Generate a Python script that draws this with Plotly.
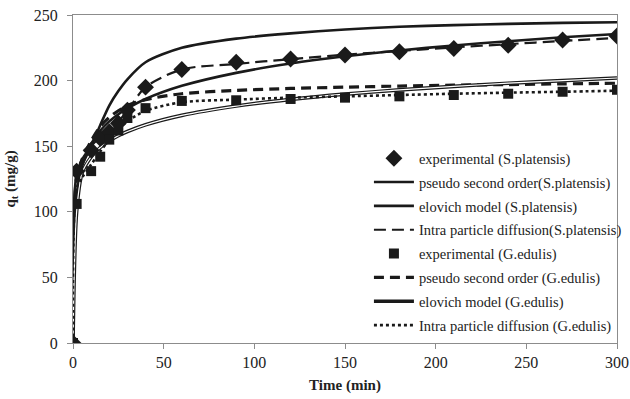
import plotly.graph_objects as go

# ---- data ----
t_exp = [0, 2, 10, 15, 20, 25, 30, 40, 60, 90, 120, 150, 180, 210, 240, 270, 300]
exp_sp = [0, 131, 147, 156, 161, 167.5, 177.5, 195, 208.5, 214, 216.5, 219.5, 222, 224.5, 227, 231, 234]
exp_ge = [0, 106, 131, 142, 155, 162, 171.5, 179, 184.5, 185, 186, 187, 188, 189, 190, 191.5, 193]

t_mod = [0, 2, 5, 10, 15, 20, 25, 30, 40, 60, 90, 120, 150, 180, 210, 240, 270, 300]
pso_sp = [0, 128, 136, 150, 166, 181, 192, 201, 214, 225, 232, 236, 239, 241, 242.3, 243.2, 244, 244.5]
elo_sp = [0, 112, 134.8, 151.8, 161.8, 168.9, 174.4, 178.9, 186, 196, 205.9, 213, 218.5, 223, 226.8, 230, 233, 235.5]
ipd_sp = [0, 130, 140, 150, 157, 163, 169, 177, 195, 208.5, 212.7, 216.4, 219.7, 222.6, 225.3, 227.8, 230.2, 232.5]
pso_ge = [0, 125, 140, 154, 165, 172, 177, 181, 185.5, 190, 192.5, 194, 195, 195.8, 196.5, 197, 197.5, 198]
elo_ge = [0, 100, 129.5, 141.8, 149, 154, 158, 161.2, 166.3, 173.5, 180.6, 185.7, 189.7, 192.9, 195.6, 198, 200, 202]
ipd_ge = [0, 118, 126, 136, 146, 155, 163, 169, 177, 183.5, 185.5, 187, 188, 189, 190, 190.8, 191.5, 192.3]

names = [
    "experimental (S.platensis)",
    "pseudo second order(S.platensis)",
    "elovich model (S.platensis)",
    "Intra particle diffusion(S.platensis)",
    "experimental (G.edulis)",
    "pseudo second order (G.edulis)",
    "elovich model (G.edulis)",
    "Intra particle diffusion (G.edulis)",
]

BLACK = "#1a1a1a"
SPL = dict(shape="spline", smoothing=0.8)

fig = go.Figure()

fig.add_trace(go.Scatter(x=t_mod, y=pso_sp, mode="lines", name=names[1],
                         line=dict(color=BLACK, width=2.6, **SPL), legendgroup="g2"))
fig.add_trace(go.Scatter(x=t_mod, y=elo_sp, mode="lines", name=names[2],
                         line=dict(color=BLACK, width=2.6, **SPL), legendgroup="g3"))
fig.add_trace(go.Scatter(x=t_mod, y=ipd_sp, mode="lines", name=names[3],
                         line=dict(color=BLACK, width=2.2, dash="12px,6px", **SPL), legendgroup="g4"))
fig.add_trace(go.Scatter(x=t_mod, y=pso_ge, mode="lines", name=names[5],
                         line=dict(color=BLACK, width=3.2, dash="10px,6px", **SPL), legendgroup="g6"))
fig.add_trace(go.Scatter(x=t_mod, y=elo_ge, mode="lines", name=names[6],
                         line=dict(color=BLACK, width=3.6, **SPL), legendgroup="g7"))
fig.add_trace(go.Scatter(x=t_mod, y=elo_ge, mode="lines", name=names[6], showlegend=False,
                         line=dict(color="white", width=1.2, **SPL), legendgroup="g7", hoverinfo="skip"))
fig.add_trace(go.Scatter(x=t_mod, y=ipd_ge, mode="lines", name=names[7],
                         line=dict(color=BLACK, width=2.6, dash="dot", **SPL), legendgroup="g8"))
fig.add_trace(go.Scatter(x=t_exp, y=exp_sp, mode="markers", name=names[0],
                         marker=dict(symbol="diamond", size=13, color=BLACK), legendgroup="g1"))
fig.add_trace(go.Scatter(x=t_exp, y=exp_ge, mode="markers", name=names[4],
                         marker=dict(symbol="square", size=10, color=BLACK), legendgroup="g5"))

order = {names[0]: 1, names[1]: 2, names[2]: 3, names[3]: 4, names[4]: 5, names[5]: 6, names[6]: 7, names[7]: 8}
for tr in fig.data:
    tr.legendrank = order[tr.name]

FONT = "Liberation Serif"
AXC = "#8c8c8c"

fig.update_layout(
    width=630, height=399,
    margin=dict(l=73, r=13, t=15, b=56, autoexpand=False),
    paper_bgcolor="white", plot_bgcolor="white",
    font=dict(family=FONT, size=16, color="#222"),
    showlegend=True,
    legend=dict(x=0.544, y=0.612, xanchor="left", yanchor="top",
                font=dict(family=FONT, size=14.5, color="#222"),
                bgcolor="rgba(0,0,0,0)", traceorder="grouped",
                tracegroupgap=2, itemwidth=40),
    xaxis=dict(range=[0, 300], tickvals=[0, 50, 100, 150, 200, 250, 300], automargin=False,
               showline=True, linecolor=AXC, linewidth=1, mirror=True,
               ticks="outside", tickcolor=AXC, ticklen=5, showgrid=False, zeroline=False,
               title=dict(text="<b>Time (min)</b>", font=dict(family=FONT, size=15), standoff=9),
               tickfont=dict(family=FONT, size=16, color="#222")),
    yaxis=dict(range=[0, 250], tickvals=[0, 50, 100, 150, 200, 250], automargin=False,
               showline=True, linecolor=AXC, linewidth=1, mirror=True,
               ticks="outside", tickcolor=AXC, ticklen=5, ticklabelstandoff=6,
               showgrid=False, zeroline=False,
               title=dict(text="<b>q<sub>t</sub> (mg/g)</b>", font=dict(family=FONT, size=15), standoff=14),
               tickfont=dict(family=FONT, size=16, color="#222")),
)

fig.write_html("out.html")
